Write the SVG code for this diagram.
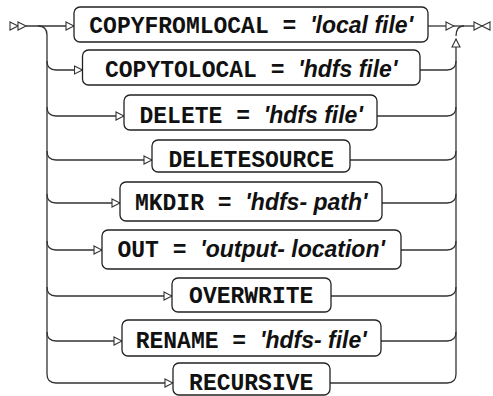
<svg xmlns="http://www.w3.org/2000/svg" width="493" height="396" viewBox="0 0 493 396">
<style>
.box{fill:#fff;stroke:#222;stroke-width:1.3}
.ln{fill:none;stroke:#333;stroke-width:1.3}
.tri{fill:#fff;stroke:#333;stroke-width:1.1}
text{font-size:23px;fill:#111}
.k{font-family:"Liberation Mono","DejaVu Sans Mono",monospace;font-weight:bold}
.v{font-family:"Liberation Sans",Arial,sans-serif;font-weight:bold;font-style:italic}
</style>
<defs>
<marker id="ar" markerUnits="userSpaceOnUse" markerWidth="10" markerHeight="10" viewBox="0 0 10 10" refX="9" refY="5" orient="auto">
<path d="M1,1 L9,5 L1,9 Z" fill="#fff" stroke="#333" stroke-width="1.1"/>
</marker>
</defs>
<g id="connectors">
<path class="tri" d="M10,22 L18,26 L10,30 Z"/>
<path class="tri" d="M18,22 L26,26 L18,30 Z"/>
<path class="ln" d="M26,26 H74" marker-end="url(#ar)"/>
<path class="ln" d="M38,26 Q47,26 47,35 V374 Q47,383 56,383 H173" marker-end="url(#ar)"/>
<path class="ln" d="M47,61 Q47,70 56,70 H82.5" marker-end="url(#ar)"/>
<path class="ln" d="M47,107 Q47,116 56,116 H124" marker-end="url(#ar)"/>
<path class="ln" d="M47,151 Q47,160 56,160 H152" marker-end="url(#ar)"/>
<path class="ln" d="M47,194 Q47,203 56,203 H120" marker-end="url(#ar)"/>
<path class="ln" d="M47,241 Q47,250 56,250 H102" marker-end="url(#ar)"/>
<path class="ln" d="M47,287 Q47,296 56,296 H172" marker-end="url(#ar)"/>
<path class="ln" d="M47,332 Q47,341 56,341 H122" marker-end="url(#ar)"/>
<path class="ln" d="M428,26 H454" marker-end="url(#ar)"/>
<path class="ln" d="M454,26 H474"/>
<path class="ln" d="M456,36 Q456,26 464,26"/>
<path class="ln" d="M420,70 H447 Q456,70 456,61"/>
<path class="ln" d="M377,116 H447 Q456,116 456,107"/>
<path class="ln" d="M350,160 H447 Q456,160 456,151"/>
<path class="ln" d="M382,203 H447 Q456,203 456,194"/>
<path class="ln" d="M401,250 H447 Q456,250 456,241"/>
<path class="ln" d="M331,296 H447 Q456,296 456,287"/>
<path class="ln" d="M381,341 H447 Q456,341 456,332"/>
<path class="ln" d="M330,383 H447 Q456,383 456,374 V39" marker-end="url(#ar)"/>
<path class="tri" d="M474,22 L482,26 L474,30 Z"/>
<path class="tri" d="M490,22 L482,26 L490,30 Z"/>
</g>
<g id="copyfromlocal"><rect class="box" x="74" y="7" width="354" height="35" rx="6"/>
<text x="251.2" y="33" text-anchor="middle" xml:space="preserve"><tspan class="k">COPYFROMLOCAL = </tspan><tspan class="v">'local file'</tspan></text></g>
<g id="copytolocal"><rect class="box" x="82.5" y="50" width="337.5" height="35" rx="6"/>
<text x="251.2" y="77" text-anchor="middle" xml:space="preserve"><tspan class="k">COPYTOLOCAL = </tspan><tspan class="v">'hdfs file'</tspan></text></g>
<g id="delete"><rect class="box" x="124" y="95" width="253" height="35" rx="6"/>
<text x="251.2" y="123" text-anchor="middle" xml:space="preserve"><tspan class="k">DELETE = </tspan><tspan class="v">'hdfs file'</tspan></text></g>
<g id="deletesource"><rect class="box" x="152" y="140" width="198" height="32" rx="6"/>
<text x="251.2" y="167" text-anchor="middle"><tspan class="k">DELETESOURCE</tspan></text></g>
<g id="mkdir"><rect class="box" x="120" y="182" width="262" height="39" rx="6"/>
<text x="251.2" y="210" text-anchor="middle" xml:space="preserve"><tspan class="k">MKDIR = </tspan><tspan class="v">'hdfs- path'</tspan></text></g>
<g id="out"><rect class="box" x="102" y="230" width="299" height="39" rx="6"/>
<text x="251.2" y="257" text-anchor="middle" xml:space="preserve"><tspan class="k">OUT = </tspan><tspan class="v">'output- location'</tspan></text></g>
<g id="overwrite"><rect class="box" x="172" y="278" width="159" height="34" rx="6"/>
<text x="251.2" y="303" text-anchor="middle"><tspan class="k">OVERWRITE</tspan></text></g>
<g id="rename"><rect class="box" x="122" y="320" width="259" height="36" rx="6"/>
<text x="251.2" y="348" text-anchor="middle" xml:space="preserve"><tspan class="k">RENAME = </tspan><tspan class="v">'hdfs- file'</tspan></text></g>
<g id="recursive"><rect class="box" x="173" y="363" width="157" height="32" rx="6"/>
<text x="251.2" y="390" text-anchor="middle"><tspan class="k">RECURSIVE</tspan></text></g>
</svg>
